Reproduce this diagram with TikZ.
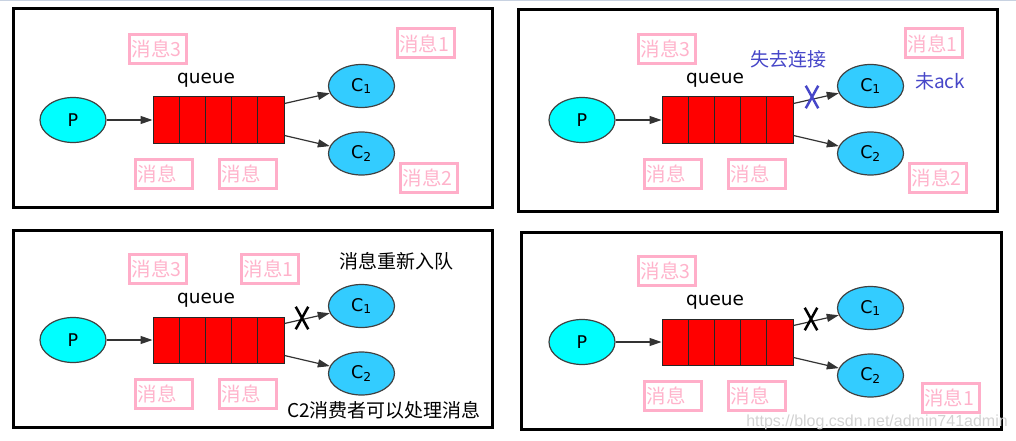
\documentclass[tikz,border=0pt]{standalone}
\usepackage{fontspec}
\setmainfont{DejaVu Sans}
\newfontfamily\cjk{Noto Sans CJK SC}
\newfontfamily\urlfont{Liberation Sans}
\usetikzlibrary{shapes.geometric,shapes.misc,arrows.meta}
\definecolor{pinkline}{HTML}{FFAEC9}
\definecolor{pinktext}{HTML}{FFB3CB}
\definecolor{pcyan}{HTML}{00FFFF}
\definecolor{csky}{HTML}{33CCFF}
\definecolor{lossblue}{HTML}{4646C8}
\definecolor{topline}{HTML}{C8D2E1}

\begin{document}
\begin{tikzpicture}
[x=1pt,y=-1pt,
 prod/.style={ellipse,draw=black!75,line width=1.2pt,fill=pcyan,inner sep=0pt,minimum width=66pt,minimum height=45pt,font=\fontsize{17.5}{17.5}\selectfont},
 cons/.style={prod,fill=csky,minimum height=43pt},
 cell/.style={rectangle,draw=black!85,line width=1pt,fill=red,inner sep=0pt,minimum width=26.2pt,minimum height=46pt},
 msg/.style={rectangle,draw=pinkline,line width=3pt,text=pinktext,inner xsep=2pt,inner ysep=0pt,text width=53pt,minimum height=29pt,align=left,font=\cjk\fontsize{19.5}{19.5}\selectfont},
 note/.style={font=\cjk\fontsize{19}{19}\selectfont},
 cross/.style={cross out,draw,line width=2.5pt,minimum width=10pt,minimum height=20pt,inner sep=0pt},
 frame/.style={draw=black,line width=3pt},
 flow/.style={draw=black!80,line width=1.2pt,-{Triangle[length=12pt,width=8pt]}}]
\useasboundingbox (0,0) rectangle (1016,441);
\draw[topline,line width=1pt] (0,0.5) -- (1016,0.5);
\draw[frame] (13,9)   rectangle (492,207);
\draw[frame] (518,10) rectangle (997,211);
\draw[frame] (13,230) rectangle (492,427);
\draw[frame] (521,232) rectangle (1001,429);
% common part of the four panels
\foreach \n/\dx/\dy in {1/0/0,2/509/0,3/0/220,4/509/222}{
\begin{scope}[shift={(\dx,\dy)}]
\node[prod] (P\n) at (73,120) {P};
\foreach \k in {1,...,5}
  \node[cell] (Q\n-\k) at (139.9+26.2*\k,120) {};
\node[font=\fontsize{18.5}{18.5}\selectfont] (L\n) at (206,80) {queue};
\node[cons] (C\n-1) at (361.5,86)    {C\textsubscript{1}};
\node[cons] (C\n-2) at (361.5,153.5) {C\textsubscript{2}};
\node[msg] (M\n-3) at (158,49)  {消息3};
\node[msg] (M\n-a) at (164,174) {消息};
\node[msg] (M\n-b) at (248,174) {消息};
\draw[flow] (P\n) -- (Q\n-1);
\draw[flow] ([yshift=-7pt]Q\n-5.north east) -- (C\n-1);
\draw[flow] ([yshift=8pt]Q\n-5.south east)  -- (C\n-2);
\end{scope}}
% panel 1
\node[msg] (M1-1) at (425.5,43.5) {消息1};
\node[msg] (M1-2) at (429,177.5)  {消息2};
% panel 2
\node[msg] (M2-1) at (934,43.5)  {消息1};
\node[msg] (M2-2) at (938,177.5) {消息2};
\node[note,text=lossblue] (lost)  at (788,59) {失去连接};
\node[note,text=lossblue] (noack) at (940,81) {未ack};
\node[cross,draw=lossblue] (X2) at (812,97) {};
% panel 3
\node[msg] (M3-1) at (270,269) {消息1};
\node[note] (requeue) at (396,261) {消息重新入队};
\node[note] (handle)  at (384,410) {C2消费者可以处理消息};
\node[cross] (X3) at (302,318) {};
% panel 4
\node[msg] (M4-1) at (950.5,397.5) {消息1};
\node[cross] (X4) at (811,319) {};
\node[font=\urlfont\fontsize{16}{16}\selectfont,text=black!18] (mark) at (877,422) {https://blog.csdn.net/admin741admin};
\end{tikzpicture}
\end{document}
